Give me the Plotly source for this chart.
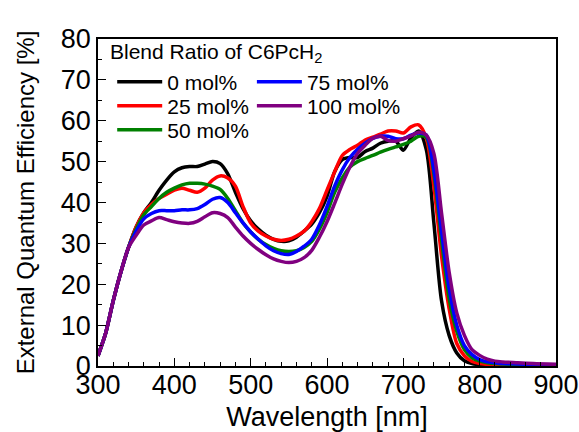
import plotly.graph_objects as go

wavelength = [300, 310, 320, 330, 340, 350, 360, 370, 380, 390, 400, 410, 420, 430, 440, 450,
              460, 470, 480, 490, 500, 510, 520, 530, 540, 550, 560, 570, 580, 590, 600,
              610, 620, 630, 640, 650, 660, 670, 680, 690, 700, 710, 720, 730, 740, 750,
              760, 770, 780, 790, 800, 810, 820, 830, 850, 870, 900]

eqe_0 = [2.5, 8, 16, 23, 29, 34, 37.5, 40, 43, 45.5, 47.5, 48.5, 48.8, 48.8, 49.4, 50,
         49.5, 47, 42.5, 38.5, 35.5, 33.5, 32, 31, 30.5, 30.6, 31.5, 33, 34.7, 37.5, 41.5,
         47.5, 50.5, 51, 51, 52.5, 53.3, 54.5, 55, 55, 52.8, 55.8, 57.5, 53, 35, 16,
         7.5, 3.2, 1.3, 0.6, 0.3, 0.2, 0.15, 0.1, 0.1, 0.08, 0.05]
eqe_25 = [2.5, 8, 16, 23, 29, 34, 37.5, 39.5, 41, 42, 43, 43.5, 43, 42.5, 43.5, 45.5,
          46.5, 46, 44, 39, 35, 33, 31.8, 31, 30.7, 31, 31.8, 33, 35.3, 38.5, 43,
          47.5, 51.5, 53, 54, 55.3, 56, 56.7, 57.5, 57.5, 57, 58.5, 59, 55.8, 44, 27,
          14, 5.5, 2.5, 1.1, 0.6, 0.4, 0.3, 0.2, 0.15, 0.12, 0.1]
eqe_50 = [2.5, 8, 16, 23, 29, 33.5, 37, 39, 41, 42.5, 43.5, 44.3, 44.7, 44.7, 44.5, 44,
          43.2, 41, 38, 35, 32.8, 31, 29.7, 28.8, 28.2, 28, 28.2, 29, 30.5, 33.5, 37.5,
          42.5, 46, 48.7, 50, 50.8, 51.5, 52.3, 53, 53.6, 54.2, 55, 56.2, 56, 47, 31,
          16.5, 8.5, 4, 2, 1.2, 0.8, 0.6, 0.5, 0.4, 0.3, 0.2]
eqe_75 = [2.5, 8, 16, 23, 29, 33, 36, 37.3, 38, 38, 38, 38.2, 38.2, 38.5, 39.5, 40.8,
          41.2, 40, 37.5, 35, 32.8, 31, 29.4, 28.2, 27.5, 27.3, 28, 29.3, 31, 34.5, 39,
          44, 48, 51, 53, 54.5, 55.7, 56.2, 56.2, 55.6, 55.6, 56.5, 57, 56.5, 48, 33,
          19, 10, 5, 2.8, 1.6, 1, 0.8, 0.6, 0.5, 0.35, 0.25]
eqe_100 = [2.5, 8, 16, 23, 29, 32, 34.5, 35.5, 36.3, 35.8, 35.3, 35, 34.9, 35.4, 36.5, 37.5,
           37.3, 36.3, 34, 31.8, 30, 28.5, 27.2, 26.2, 25.6, 25.3, 25.6, 26.5, 28.3, 31.5, 35.3,
           39.8, 44.5, 48.7, 52, 54, 55.7, 56.2, 55.2, 55, 55.6, 56.3, 57.2, 56.5, 52, 37.5,
           23, 13, 7.5, 4, 2.6, 1.7, 1.2, 1.0, 0.8, 0.6, 0.4]

series_names = ["0 mol%", "25 mol%", "50 mol%", "75 mol%", "100 mol%"]
series_values = [eqe_0, eqe_25, eqe_50, eqe_75, eqe_100]
series_colors = ["#000000", "#ff0000", "#008000", "#0000ff", "#800080"]
legend_title = "Blend Ratio of C6PcH<sub>2</sub>"

x_ticks = [300, 400, 500, 600, 700, 800, 900]
y_ticks = [0, 10, 20, 30, 40, 50, 60, 70, 80]

FONT = "Liberation Sans, Arial, sans-serif"

# legend placement (paper coords): two columns, 3 rows
legend_pos = [(0.031, 0.8685), (0.031, 0.795), (0.031, 0.7217),
              (0.336, 0.8685), (0.336, 0.795)]
legend_ids = ["legend", "legend2", "legend3", "legend4", "legend5"]

fig = go.Figure()
for name, vals, color, lg in zip(series_names, series_values, series_colors, legend_ids):
    fig.add_trace(go.Scatter(
        x=wavelength, y=vals, mode="lines", name=name,
        line=dict(color=color, width=3.5, shape="spline", smoothing=0.8),
        legend=lg,
    ))

axis_common = dict(
    showline=True, linecolor="black", linewidth=1.5, mirror=True,
    ticks="inside", ticklen=8, tickwidth=1.3, tickcolor="black",
    showgrid=False, zeroline=False, automargin=False,
    tickfont=dict(family=FONT, size=27, color="black"),
)

layout_legends = {}
for lg, (lx, ly) in zip(legend_ids, legend_pos):
    layout_legends[lg] = dict(
        x=lx, y=ly, xanchor="left", yanchor="middle",
        bgcolor="rgba(0,0,0,0)", borderwidth=0,
        font=dict(family=FONT, size=21, color="black"),
        itemwidth=45, tracegroupgap=0,
    )

fig.update_layout(
    width=579, height=432,
    margin=dict(l=98, r=23, t=39, b=66, autoexpand=False),
    paper_bgcolor="white", plot_bgcolor="white",
    font=dict(family=FONT, color="black"),
    xaxis=dict(
        range=[300, 900], tickvals=x_ticks,
        minor=dict(dtick=20, tick0=300, ticks="inside", ticklen=4, tickcolor="black", tickwidth=1),
        title=dict(text="Wavelength [nm]", font=dict(family=FONT, size=27), standoff=11),
        ticklabelstandoff=-6,
        **axis_common,
    ),
    yaxis=dict(
        range=[0, 80], tickvals=y_ticks,
        minor=dict(dtick=5, tick0=0, ticks="inside", ticklen=4, tickcolor="black", tickwidth=1),
        title=dict(text="External Quantum Efficiency [%]", font=dict(family=FONT, size=24), standoff=19),
        ticklabelstandoff=0,
        **axis_common,
    ),
    showlegend=True,
    annotations=[dict(
        text=legend_title, xref="paper", yref="paper", x=0.022, y=0.957,
        xanchor="left", yanchor="middle", showarrow=False,
        font=dict(family=FONT, size=21, color="black"),
    )],
    **layout_legends,
)

fig.write_html("out.html", config={"displayModeBar": False},
               post_script="document.body.style.margin='0px';")
